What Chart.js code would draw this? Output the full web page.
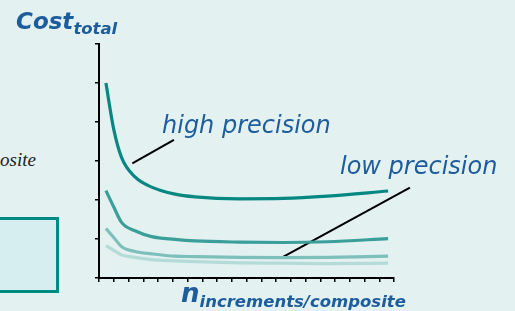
<!DOCTYPE html>
<html>
<head>
<meta charset="utf-8">
<script src="https://cdn.jsdelivr.net/npm/chart.js@4/dist/chart.umd.min.js"></script>
<style>
  html, body { margin: 0; padding: 0; }
  body { width: 515px; height: 311px; overflow: hidden; position: relative; background: #e3f1f1; }
  #costchart { position: absolute; left: 0; top: 0; }
  .lbl { position: absolute; white-space: nowrap; line-height: 1; color: #1d5d9b; font-family: "DejaVu Sans", Verdana, sans-serif; font-style: italic; }
  .sub { position: relative; }
</style>
</head>
<body>
<div style="position:absolute;left:-10px;top:217px;width:69px;height:76px;box-sizing:border-box;border:3px solid #008a85;background:#d6eef0;"></div>
<div class="lbl" style="left:-200px;top:150px;width:236px;text-align:right;font-family:'Liberation Serif',serif;font-size:19px;color:#222;">composite</div>

<canvas id="costchart" width="515" height="311"></canvas>

<div class="lbl" style="left:16px;top:10px;font-size:23px;font-weight:bold;">Cost<span class="sub" style="font-size:16.5px;top:5px;">total</span></div>
<div class="lbl" style="left:162px;top:113px;font-size:24px;">high precision</div>
<div class="lbl" style="left:340px;top:154px;font-size:24px;">low precision</div>
<div class="lbl" style="left:181px;top:280px;font-size:26px;font-weight:bold;">n<span class="sub" style="font-size:16.5px;top:5px;">increments/composite</span></div>

<script>
// n increments per composite (x positions where the curves were read)
var nIncrements = [0.47, 1.0, 1.54, 2.44, 3.57, 5.15, 6.5, 9.5, 12.5, 15.5, 19.6];

// total cost, from high precision down to low precision
var costHigh  = [5.00, 3.81, 3.08, 2.59, 2.33, 2.15, 2.08, 2.03, 2.04, 2.10, 2.23];
var costMid   = [2.24, 1.82, 1.42, 1.21, 1.06, 0.99, 0.95, 0.92, 0.91, 0.93, 1.01];
var costLow   = [1.27, 1.04, 0.80, 0.68, 0.62, 0.56, 0.55, 0.53, 0.52, 0.53, 0.56];
var costLowest = [0.83, 0.71, 0.59, 0.53, 0.47, 0.44, 0.42, 0.39, 0.38, 0.37, 0.38];

var seriesColors = ['#078782', '#3a9e99', '#7cbfbb', '#b5dbd8'];

// leader lines from the labels to the curves
var highLeaderX = [2.26, 5.08];
var highLeaderY = [2.94, 3.54];
var lowLeaderX = [12.39, 21.08];
var lowLeaderY = [0.52, 2.32];

function pts(xs, ys) {
    var out = [];
    for (var i = 0; i < xs.length; i++) {
        out.push({x: xs[i], y: ys[i]});
    }
    return out;
}

function curve(ys, color) {
    return {
        data: pts(nIncrements, ys),
        borderColor: color,
        borderWidth: 3.2,
        pointRadius: 0,
        cubicInterpolationMode: 'monotone',
        fill: false
    };
}

function leader(xs, ys) {
    return {
        data: pts(xs, ys),
        borderColor: '#000',
        borderWidth: 2,
        pointRadius: 0,
        clip: false,
        fill: false
    };
}

var ctx = document.getElementById('costchart');
var costChart = new Chart(ctx, {
    type: 'line',
    data: {
        datasets: [
            curve(costLowest, seriesColors[3]),
            curve(costLow, seriesColors[2]),
            curve(costMid, seriesColors[1]),
            curve(costHigh, seriesColors[0]),
            leader(highLeaderX, highLeaderY),
            leader(lowLeaderX, lowLeaderY)
        ]
    },
    options: {
        responsive: false,
        animation: false,
        devicePixelRatio: 1,
        layout: { padding: { left: 95, top: 44, right: 121, bottom: 29 } },
        plugins: { legend: { display: false }, tooltip: { enabled: false } },
        scales: {
            x: {
                type: 'linear',
                min: 0,
                max: 20,
                afterFit: function(scale) { scale.height = 4; },
                ticks: { display: false, stepSize: 1 },
                grid: { drawOnChartArea: false, drawTicks: true, tickLength: 4, color: '#000', lineWidth: 1.5 },
                border: { color: '#000', width: 2 }
            },
            y: {
                min: 0,
                max: 6,
                afterFit: function(scale) { scale.width = 4; },
                ticks: { display: false, stepSize: 1 },
                grid: { drawOnChartArea: false, drawTicks: true, tickLength: 4, color: '#000', lineWidth: 1.5 },
                border: { color: '#000', width: 2 }
            }
        }
    }
});
</script>
</body>
</html>
